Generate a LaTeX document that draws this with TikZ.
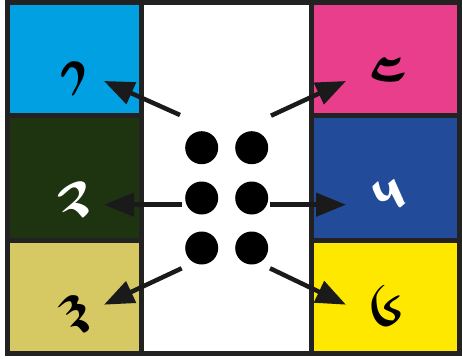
\documentclass[tikz,border=0pt]{standalone}
\usepackage{fontspec}
\usetikzlibrary{arrows.meta}
\newfontfamily\tibfont[Script=Tibetan]{Jomolhari}
\definecolor{cblue}{HTML}{00A0E3}
\definecolor{cgreen}{HTML}{1E3410}
\definecolor{ckhaki}{HTML}{D6C862}
\definecolor{cpink}{HTML}{E83E8C}
\definecolor{cnavy}{HTML}{224C9A}
\definecolor{cyellow}{HTML}{FFE800}
\definecolor{cline}{HTML}{222222}
\definecolor{carrow}{HTML}{1A1A1A}
\begin{document}
\begin{tikzpicture}[x=1pt,y=-1pt,
  cell/.style={draw=cline,line width=5pt},
  dot/.style={circle,fill=black,minimum size=33pt,inner sep=0pt},
  digit/.style={font=\tibfont\fontsize{66}{72}\selectfont,inner sep=0pt},
  arr/.style={draw=carrow,line width=4.5pt,-{Triangle[length=30pt,width=23pt]}}]
\useasboundingbox (0,0) rectangle (462,358);
\fill[white] (0,0) rectangle (462,358);
% cells
\fill[cblue] (7.5,2.5) rectangle (141.5,115.5);
\fill[cgreen] (7.5,115.5) rectangle (141.5,240.5);
\fill[ckhaki] (7.5,240.5) rectangle (141.5,353.5);
\fill[cpink] (311.5,2.5) rectangle (459.5,115.5);
\fill[cnavy] (311.5,115.5) rectangle (459.5,240.5);
\fill[cyellow] (311.5,240.5) rectangle (459.5,353.5);
\draw[cell] (7.5,2.5) rectangle (459.5,353.5);
\draw[cell] (141.5,2.5) -- (141.5,353.5);
\draw[cell] (311.5,2.5) -- (311.5,353.5);
\draw[cell] (7.5,115.5) -- (141.5,115.5);
\draw[cell] (7.5,240.5) -- (141.5,240.5);
\draw[cell] (311.5,115.5) -- (459.5,115.5);
\draw[cell] (311.5,240.5) -- (459.5,240.5);
% dots
\node[dot] (d1) at (201.7,147.7) {};
\node[dot] (d2) at (201.7,198) {};
\node[dot] (d3) at (201.7,248) {};
\node[dot] (d4) at (251.7,147.7) {};
\node[dot] (d5) at (251.7,198) {};
\node[dot] (d6) at (251.7,248) {};
% digits
\node[digit,text=black] (l1) at (73,86) {༡};
\node[digit,text=white] (l2) at (74,206) {༢};
\node[digit,text=black] (l3) at (74,320) {༣};
\node[digit,text=black] (l4) at (388,82) {༤};
\node[digit,text=white] (l5) at (390,204) {༥};
\node[digit,text=black] (l6) at (386,315) {༦};
% arrows
\coordinate (s1) at (180,115);   \coordinate (t1) at (104,81);
\coordinate (s2) at (181.7,204.7); \coordinate (t2) at (104,204.7);
\coordinate (s3) at (181.7,268.3); \coordinate (t3) at (104,304.7);
\coordinate (s4) at (271,115.7); \coordinate (t4) at (346,81);
\coordinate (s5) at (270,204.7); \coordinate (t5) at (346,204.7);
\coordinate (s6) at (270,268.3); \coordinate (t6) at (346,304.7);
\draw[arr] (s1) -- (t1);
\draw[arr] (s2) -- (t2);
\draw[arr] (s3) -- (t3);
\draw[arr] (s4) -- (t4);
\draw[arr] (s5) -- (t5);
\draw[arr] (s6) -- (t6);
\end{tikzpicture}
\end{document}
